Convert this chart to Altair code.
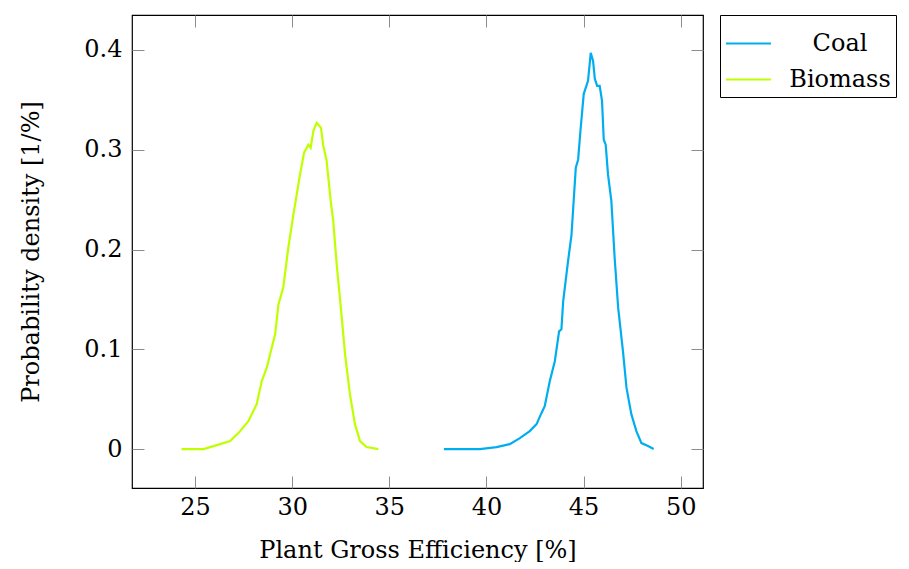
import altair as alt
import pandas as pd

# Biomass series
bio_x = [24.3, 25.43, 26.29, 26.8, 27.23, 27.74, 28.17, 28.43, 28.69, 28.86, 29.12, 29.29,
         29.54, 29.80, 30.06, 30.23, 30.40, 30.61, 30.83, 30.95, 31.09, 31.26, 31.48, 31.60,
         31.77, 31.98, 32.11, 32.29, 32.55, 32.72, 32.97, 33.23, 33.49, 33.83, 34.43]
bio_y = [0.0, 0.0, 0.005, 0.008, 0.016, 0.028, 0.045, 0.068, 0.0815, 0.095, 0.115, 0.145,
         0.162, 0.202, 0.235, 0.255, 0.275, 0.297, 0.305, 0.302, 0.319, 0.327, 0.322, 0.304,
         0.289, 0.249, 0.229, 0.185, 0.132, 0.095, 0.055, 0.025, 0.008, 0.002, 0.0]

# Coal series
coal_x = [37.81, 39.66, 40.52, 41.20, 41.72, 42.23, 42.58, 42.83, 43.0, 43.26, 43.52, 43.74,
          43.86, 43.95, 44.20, 44.38, 44.60, 44.72, 44.84, 45.01, 45.23, 45.37, 45.49, 45.58,
          45.70, 45.83, 45.95, 46.04, 46.14, 46.26, 46.43, 46.60, 46.78, 47.03, 47.21, 47.46,
          47.72, 47.98, 48.32, 48.61]
coal_y = [0.0, 0.0, 0.002, 0.005, 0.011, 0.018, 0.025, 0.036, 0.043, 0.068, 0.088, 0.118,
          0.12, 0.148, 0.188, 0.215, 0.282, 0.29, 0.319, 0.356, 0.369, 0.397, 0.389, 0.371,
          0.364, 0.364, 0.349, 0.310, 0.305, 0.275, 0.249, 0.192, 0.142, 0.098, 0.0615, 0.035,
          0.018, 0.006, 0.003, 0.0]

series = ["Coal", "Biomass"]
colors = ["#00AEEF", "#BFFF00"]
x_ticks = [25, 30, 35, 40, 45, 50]
y_ticks = [0, 0.1, 0.2, 0.3, 0.4]

df = pd.concat([
    pd.DataFrame({"x": coal_x, "y": coal_y, "s": "Coal", "o": range(len(coal_x))}),
    pd.DataFrame({"x": bio_x, "y": bio_y, "s": "Biomass", "o": range(len(bio_x))}),
])

FONT = "DejaVu Serif"
FS = 24
TICK = "#8c8c8c"
xs = alt.Scale(domain=[21.75, 51.15], nice=False, zero=False)
ys = alt.Scale(domain=[-0.039, 0.435], nice=False, zero=False)

main = alt.Chart(df).mark_line(strokeWidth=2.2).encode(
    x=alt.X("x:Q", scale=xs, title="Plant Gross Efficiency [%]",
            axis=alt.Axis(values=x_ticks, orient="bottom", offset=-12, tickSize=12,
                          labelPadding=7, domain=False, grid=False, tickColor=TICK,
                          titlePadding=19, format="d", labelFont=FONT, titleFont=FONT,
                          labelFontSize=FS, titleFontSize=FS)),
    y=alt.Y("y:Q", scale=ys, title="Probability density [1/%]",
            axis=alt.Axis(values=y_ticks, orient="left", offset=-12, tickSize=12,
                          labelPadding=10, domain=False, grid=False, tickColor=TICK,
                          titlePadding=40, format="~g", labelFont=FONT, titleFont=FONT,
                          labelFontSize=FS, titleFontSize=FS)),
    color=alt.Color("s:N", scale=alt.Scale(domain=series, range=colors),
                    legend=alt.Legend(title=None, orient="none", legendX=588, legendY=0,
                                      symbolType="stroke", symbolSize=2025,
                                      symbolStrokeWidth=2, strokeColor="black",
                                      fillColor="white", padding=5,
                                      labelAlign="center", labelOffset=68,
                                      rowPadding=-10, labelFontSize=FS, labelFont=FONT,
                                      labelColor="black", labelLimit=300)),
    order="o:Q",
)

frame = alt.Chart(df).mark_line(opacity=0).encode(
    x=alt.X("x:Q", scale=xs, title=None,
            axis=alt.Axis(values=x_ticks, orient="top", offset=-12, tickSize=12,
                          labels=False, domain=False, grid=False, tickColor=TICK)),
    y=alt.Y("y:Q", scale=ys, title=None,
            axis=alt.Axis(values=y_ticks, orient="right", offset=-12, tickSize=12,
                          labels=False, domain=False, grid=False, tickColor=TICK)),
    detail="s:N",
    order="o:Q",
)

chart = alt.layer(main, frame).resolve_axis(x="independent", y="independent").properties(
    width=571, height=473, padding={"left": 19, "top": 14, "right": 0, "bottom": 0}
).configure_view(stroke="black", strokeWidth=1.2).configure_axis(
    labelColor="black", titleColor="black", titleFontWeight="normal"
)

chart.save("out.html", embed_options={"renderer": "svg", "actions": False})
